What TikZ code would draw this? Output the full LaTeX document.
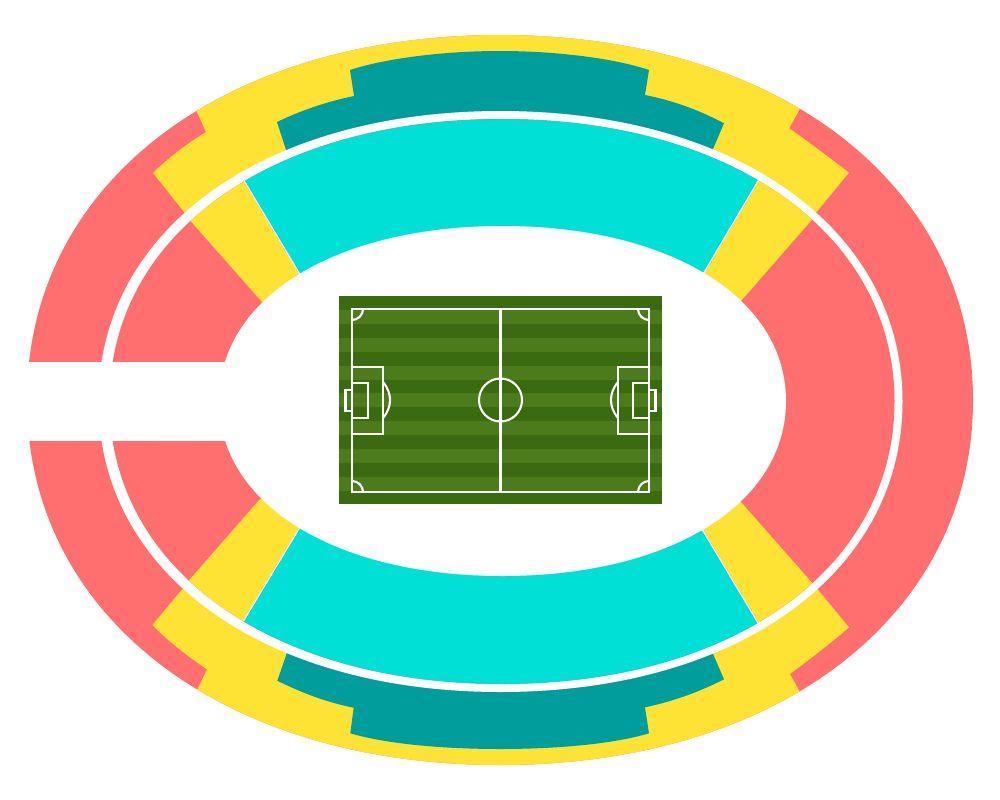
\documentclass[tikz,border=0pt]{standalone}
\definecolor{seatred}{HTML}{FF6F70}
\definecolor{seatyellow}{HTML}{FEE335}
\definecolor{seatteal}{HTML}{009D9D}
\definecolor{seatcyan}{HTML}{00E0D6}
\definecolor{grassdark}{HTML}{3B6B10}
\definecolor{grasslight}{HTML}{4C7B1C}
\newcommand{\ringpath}[3]{(500.5+#1,400)
  .. controls (500.5+#1,400-#3*#2) and (500.5+#3*#1,400-#2) .. (500.5,400-#2)
  .. controls (500.5-#3*#1,400-#2) and (500.5-#1,400-#3*#2) .. (500.5-#1,400)
  .. controls (500.5-#1,400+#3*#2) and (500.5-#3*#1,400+#2) .. (500.5,400+#2)
  .. controls (500.5+#3*#1,400+#2) and (500.5+#1,400+#3*#2) .. (500.5+#1,400) -- cycle}
\begin{document}
\begin{tikzpicture}[
    x=0.01cm, y=-0.01cm,
    redzone/.style={fill=seatred},
    yellowzone/.style={fill=seatyellow},
    tealzone/.style={fill=seatteal},
    cyanzone/.style={fill=seatcyan, draw=white, line width=0.3pt},
    gap/.style={fill=white},
    pitchline/.style={draw=white, line width=0.021cm}
]
\useasboundingbox (0,0) rectangle (1000,800);

% outer tier
\fill[redzone, shift={(-0.5,0)}] \ringpath{473}{365}{0.59};
\begin{scope}
\clip[shift={(-0.5,0)}] \ringpath{473}{365}{0.59};
\fill[yellowzone] (188,92) -- (188,0) -- (813,0) -- (811,88) -- (789.3,128.3)
  .. controls (810,143) and (830,158) .. (849,172.7) -- (800,232) -- (500,300)
  -- (200,232) -- (153,173) .. controls (168,158) and (185,145) .. (206,132) -- cycle;
\fill[yellowzone] (188,709) -- (188,800) -- (813,800) -- (811,712) -- (790,674)
  .. controls (810,659) and (830,644) .. (849,627.3) -- (800,568) -- (500,500)
  -- (200,568) -- (152.3,625) .. controls (168,641) and (187,656) .. (207,669.3) -- cycle;
\end{scope}
\fill[tealzone] (350,70) .. controls (390,57) and (450,51) .. (500,51)
  .. controls (550,51) and (610,57) .. (649,70) -- (645,95)
  .. controls (675,101) and (701,111) .. (724,123.3) -- (710,156) -- (500,175) -- (288,156)
  -- (277,122) .. controls (300,111) and (325,102) .. (354,96) -- cycle;
\fill[tealzone] (350.3,733.3) .. controls (390,745) and (450,749) .. (500,749)
  .. controls (550,749) and (610,745) .. (649,733.3) -- (645,707.3)
  .. controls (675,701) and (701,691) .. (724,679.3) -- (710,647) -- (500,625) -- (289,647)
  -- (277.3,680.7) .. controls (300,692) and (325,702) .. (353.7,707.7) -- cycle;

% white ring and inner tier
\fill[gap, shift={(0,1.5)}] \ringpath{402}{290.5}{0.59};
\fill[redzone, shift={(1.5,1.5)}] \ringpath{392.5}{282.5}{0.59};
\begin{scope}
\clip[shift={(1.5,1.5)}] \ringpath{392.5}{282.5}{0.59};
\fill[yellowzone] (150,175) -- (230,125) -- (320,300) -- (262,302) -- cycle;
\fill[yellowzone] (851,175) -- (771,125) -- (680,300) -- (741,301) -- cycle;
\fill[yellowzone] (150,625) -- (230,675) -- (320,500) -- (260,499) -- cycle;
\fill[yellowzone] (851,627) -- (771,675) -- (680,500) -- (741,502) -- cycle;
\path[cyanzone] (220,140) -- (220,100) -- (781,100) -- (781,142) -- (683,308) -- (320,308) -- cycle;
\path[cyanzone] (220,660) -- (220,700) -- (780,700) -- (780,660) -- (681,494) -- (320,494) -- cycle;
\end{scope}

% field opening and west gap
\fill[gap, shift={(2,1)}] \ringpath{283.5}{175}{0.59};
\fill[gap] (0,362) rectangle (250,441);

% pitch
\fill[grassdark] (339,296) rectangle (662,504);
\foreach \ytop in {310,338,366,393,421,449,477}{
  \fill[grasslight] (339,\ytop) rectangle (662,\ytop+14);
}
\draw[pitchline] (352,309) rectangle (649,492);
\draw[pitchline] (500.5,309) -- (500.5,492);
\draw[pitchline] (500.5,400) circle[radius=21.5];
\foreach \sx/\ox in {1/0,-1/1001}{
  \begin{scope}[shift={(\ox,0)}, xscale=\sx]
  \draw[pitchline] (352,367) rectangle (383,434);
  \draw[pitchline] (352,383) rectangle (368,418);
  \draw[pitchline] (352,390) rectangle (345.5,411);
  \draw[pitchline] (383,382) .. controls (388,388) and (390,394) .. (390,400)
    .. controls (390,406) and (388,412) .. (383,418);
  \draw[pitchline] (363,309) .. controls (363,315) and (358,320) .. (352,320);
  \draw[pitchline] (363,492) .. controls (363,486) and (358,481) .. (352,481);
  \end{scope}
}
\end{tikzpicture}
\end{document}
